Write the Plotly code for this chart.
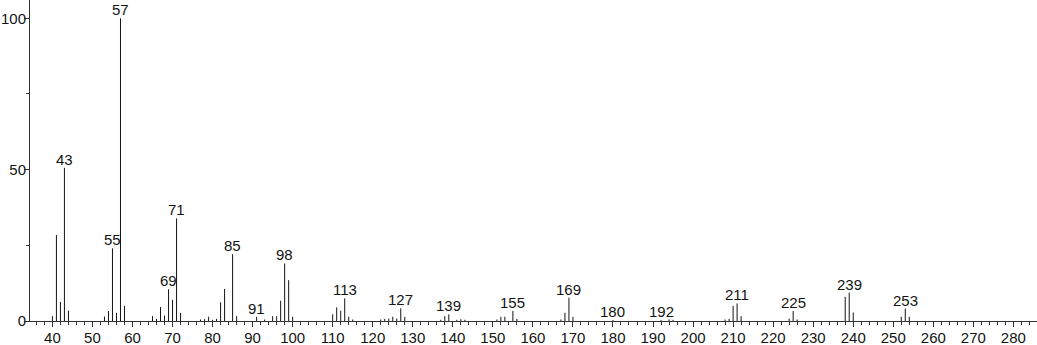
import plotly.graph_objects as go

# m/z values and relative intensities
mz = [40, 41, 42, 43, 44,
      53, 54, 55, 56, 57, 58,
      65, 66, 67, 68, 69, 70, 71, 72,
      77, 78, 79, 80, 81, 82, 83, 85, 86,
      91, 93, 95, 96, 97, 98, 99, 100,
      110, 111, 112, 113, 114, 115,
      122, 123, 124, 125, 126, 127, 128,
      137, 138, 139, 141, 142, 143,
      151, 152, 153, 155, 156,
      167, 168, 169, 170,
      180, 192, 194, 195,
      208, 209, 210, 211, 212,
      224, 225, 226,
      238, 239, 240,
      252, 253, 254]
intensity = [1.6, 28.4, 6.3, 50.6, 3.4,
             1.5, 3.3, 24.0, 2.7, 100.0, 5.0,
             1.6, 0.7, 4.6, 1.8, 10.5, 7.0, 33.9, 2.7,
             0.5, 0.6, 1.4, 0.4, 0.7, 6.2, 10.6, 22.1, 1.6,
             1.4, 0.5, 1.6, 1.6, 6.7, 19.0, 13.5, 1.4,
             2.2, 4.5, 3.4, 7.5, 1.4, 0.5,
             0.5, 0.7, 0.8, 1.4, 0.8, 4.2, 1.4,
             0.4, 1.6, 2.2, 0.4, 0.6, 0.4,
             0.5, 1.4, 1.4, 3.3, 0.7,
             0.5, 2.7, 7.7, 1.4,
             0.3, 0.3, 0.5, 0.4,
             0.5, 0.7, 5.0, 5.8, 1.6,
             0.8, 3.3, 0.5,
             8.0, 9.4, 2.8,
             1.4, 4.1, 1.4]
labelled = [43, 55, 57, 69, 71, 85, 91, 98, 113, 127, 139, 155, 169,
            180, 192, 211, 225, 239, 253]

x_major_ticks = list(range(40, 290, 10))
y_tick_vals = [0, 50, 100]

INK = "#141414"
FONT = dict(family="Liberation Sans, Arial, sans-serif", size=15, color=INK)

xs, ys = [], []
for m, v in zip(mz, intensity):
    xs += [m, m, None]
    ys += [0, v, None]

fig = go.Figure()
fig.add_trace(go.Scatter(x=xs, y=ys, mode="lines",
                         line=dict(color=INK, width=1),
                         hoverinfo="skip", showlegend=False))

lookup = dict(zip(mz, intensity))
for m in labelled:
    fig.add_annotation(x=m, y=lookup[m], text=str(m), showarrow=False,
                       xanchor="center", yanchor="bottom", yshift=-2,
                       font=FONT)

fig.update_layout(
    width=1037, height=345,
    margin=dict(l=30, r=0, t=0, b=24),
    paper_bgcolor="white", plot_bgcolor="white",
    font=FONT,
    showlegend=False,
)
fig.update_xaxes(
    range=[34.4, 285.9], showgrid=False, zeroline=False,
    showline=True, linecolor="#333", linewidth=1,
    tickmode="array", tickvals=x_major_ticks,
    ticktext=[str(t) for t in x_major_ticks],
    ticks="outside", ticklen=5, tickcolor="#333", tickwidth=1,
    ticklabelstandoff=-2,
    minor=dict(dtick=2, tick0=0, ticks="outside", ticklen=3,
               tickcolor="#333", tickwidth=1, showgrid=False),
    tickfont=FONT, automargin=False,
)
fig.update_yaxes(
    range=[0, 106.05], showgrid=False, zeroline=False,
    showline=True, linecolor="#333", linewidth=1,
    tickmode="array", tickvals=y_tick_vals,
    ticktext=[str(t) for t in y_tick_vals],
    ticks="outside", ticklen=5, tickcolor="#333", tickwidth=1,
    ticklabelstandoff=-5,
    minor=dict(dtick=25, tick0=0, ticks="outside", ticklen=3,
               tickcolor="#333", tickwidth=1, showgrid=False),
    tickfont=FONT, automargin=False,
)

fig.write_html("out.html")
